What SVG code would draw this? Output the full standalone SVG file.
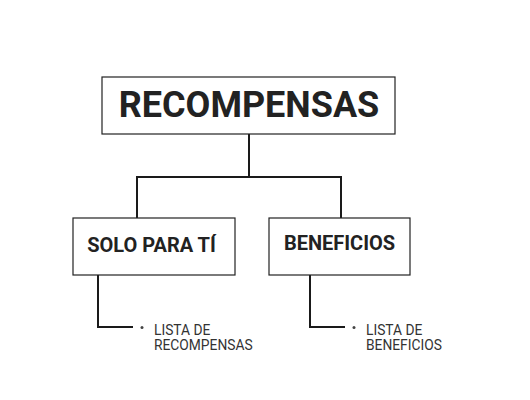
<svg xmlns="http://www.w3.org/2000/svg" width="530" height="400" viewBox="0 0 530 400">
<style>
.box{fill:#fff;stroke:#222;stroke-width:1.2}
.conn{fill:none;stroke:#1a1a1a;stroke-width:2}
.t{font-family:Roboto,"Liberation Sans",sans-serif;font-weight:bold;fill:#222}
.s{font-family:Roboto,"Liberation Sans",sans-serif;font-size:13.8px;fill:#333}
</style>
<rect width="530" height="400" fill="#fff"/>
<g id="connectors">
<path class="conn" d="M249 134V177M137 218V177H341V218"/>
<path class="conn" d="M98 275V327H133"/>
<path class="conn" d="M310 275V327H345"/>
</g>
<g id="recompensas">
<rect class="box" x="102" y="77" width="293" height="57"/>
<text class="t" x="249" y="117" font-size="36" text-anchor="middle">RECOMPENSAS</text>
</g>
<g id="solo">
<rect class="box" x="73" y="218" width="162" height="57"/>
<text class="t" x="151.5" y="252" font-size="20" text-anchor="middle">SOLO PARA TÍ</text>
</g>
<g id="beneficios">
<rect class="box" x="269" y="218" width="141" height="57"/>
<text class="t" x="339.5" y="250" font-size="20" text-anchor="middle">BENEFICIOS</text>
</g>
<g id="lista-recompensas">
<circle cx="142" cy="327.5" r="1.5" fill="#444"/>
<text class="s" x="154" y="335">LISTA DE</text>
<text class="s" x="154" y="350">RECOMPENSAS</text>
</g>
<g id="lista-beneficios">
<circle cx="354" cy="327.5" r="1.5" fill="#444"/>
<text class="s" x="366" y="335">LISTA DE</text>
<text class="s" x="366" y="350">BENEFICIOS</text>
</g>
</svg>
